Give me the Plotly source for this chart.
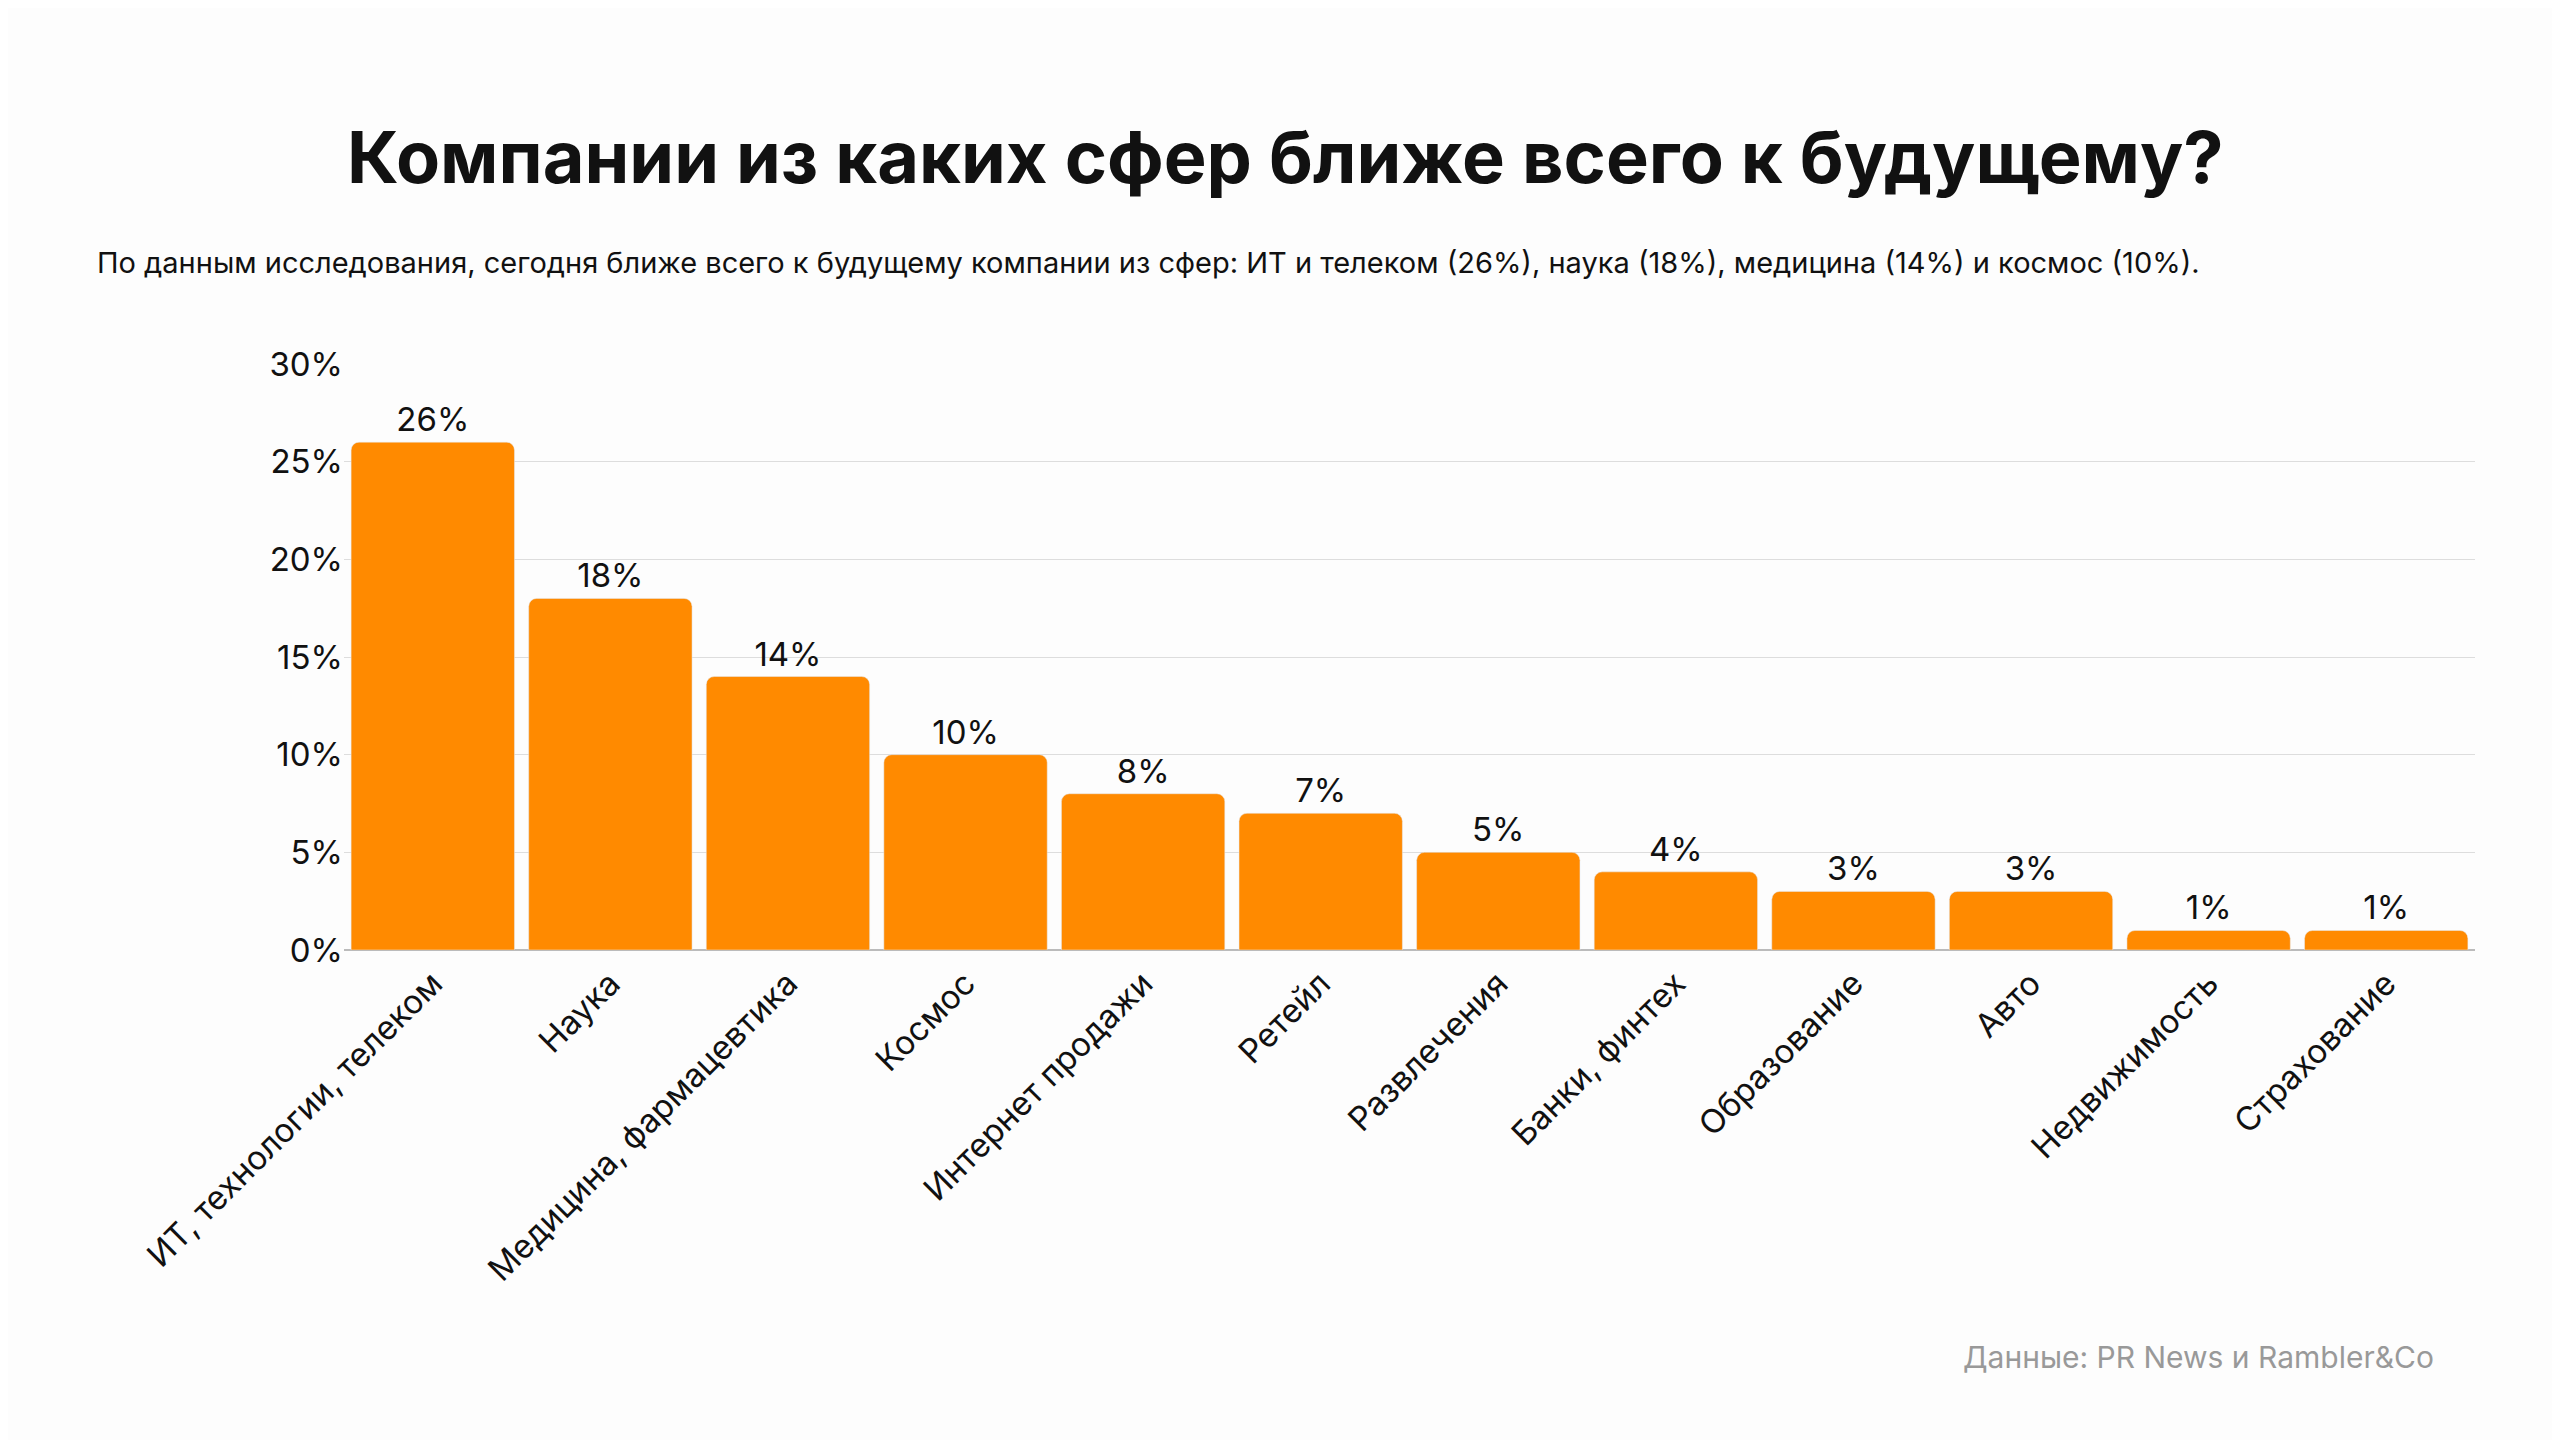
import plotly.graph_objects as go

categories = ["ИТ, технологии, телеком", "Наука", "Медицина, фармацевтика", "Космос",
              "Интернет продажи", "Ретейл", "Развлечения", "Банки, финтех",
              "Образование", "Авто", "Недвижимость", "Страхование"]
values = [26, 18, 14, 10, 8, 7, 5, 4, 3, 3, 1, 1]
labels = [f"{v}%" for v in values]

fig = go.Figure(go.Bar(
    x=categories, y=values, text=labels, textposition="outside",
    marker=dict(color="#FF8A00", cornerradius=8),
    textfont=dict(size=33, color="#111111", family="Inter"),
    cliponaxis=False,
))
fig.update_layout(
    width=2560, height=1440,
    paper_bgcolor="#FDFDFD", plot_bgcolor="#FDFDFD",
    font=dict(family="Inter", color="#111111"),
    bargap=0.08,
    margin=dict(l=336, r=93, t=356, b=498),
    showlegend=False,
    annotations=[
        dict(text="<b>Компании из каких сфер ближе всего к будущему?</b>", x=0.5, xref="paper",
             y=148, yref="paper", showarrow=False, font=dict(size=72)),
    ],
)
fig.layout.annotations = []
fig.add_annotation(text="<b>Компании из каких сфер ближе всего к будущему?</b>", xref="paper", yref="paper",
                   x=(1277-336)/(2560-336-93), y=1+(356-148)/586, showarrow=False, font=dict(size=72),
                   xanchor="center", yanchor="middle")
fig.add_annotation(text="По данным исследования, сегодня ближе всего к будущему компании из сфер: ИТ и телеком (26%), наука (18%), медицина (14%) и космос (10%).",
                   xref="paper", yref="paper", x=(87-336)/2131, y=1+(356-254)/586, showarrow=False,
                   font=dict(size=29), xanchor="left", yanchor="middle")
fig.add_annotation(text="Данные: PR News и Rambler&Co", xref="paper", yref="paper",
                   x=(2428-336)/2131, y=-(1349-942)/586, showarrow=False,
                   font=dict(size=30, color="#999999"), xanchor="right", yanchor="middle")
fig.update_yaxes(range=[0, 30], dtick=5, ticksuffix="%", gridcolor="#DDDDDD", gridwidth=1,
                 tickfont=dict(size=33), zeroline=True, zerolinecolor="#BBBBBB", ticklen=0, ticks="",
                 showline=False)
fig.update_xaxes(tickangle=-45, tickfont=dict(size=33), showline=True, linecolor="#BBBBBB", ticks="")
fig.write_html("out.html")
